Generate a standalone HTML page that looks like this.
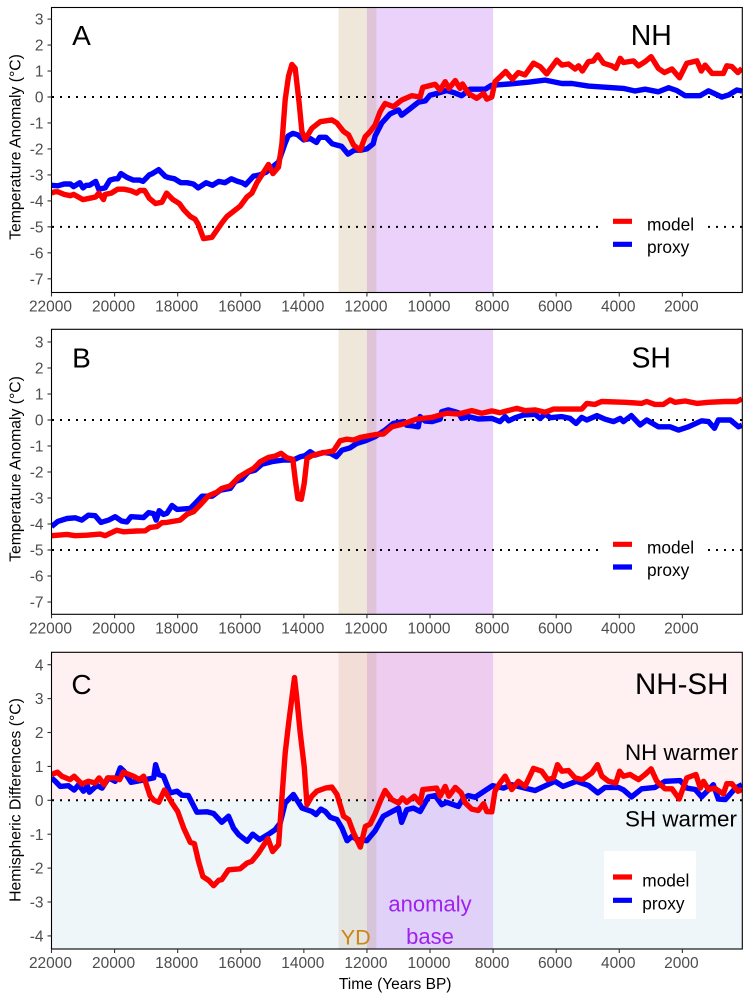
<!DOCTYPE html>
<html lang="en">
<head>
<meta charset="utf-8">
<title>Hemispheric temperature anomalies</title>
<style>
html,body{margin:0;padding:0;background:#fff;width:750px;height:1000px;overflow:hidden}
svg{display:block;font-family:"Liberation Sans",Arial,sans-serif}
</style>
</head>
<body>
<svg id="chart" xmlns="http://www.w3.org/2000/svg" width="750" height="1000" viewBox="0 0 750 1000"></svg>
<script>
/* ---------- chart data ---------- */
const xTickValues = [22000,20000,18000,16000,14000,12000,10000,8000,6000,4000,2000];
const tempTickValues = [3,2,1,0,-1,-2,-3,-4,-5,-6,-7];
const diffTickValues = [4,3,2,1,0,-1,-2,-3,-4];
const tempReferenceLines = [0,-5];
const diffReferenceLines = [0];
const ydBand = [12900,11700];
const anomalyBaseBand = [12000,8000];

const nhProxyYears = [22000,21800,21600,21400,21300,21100,21000,20900,20800,20600,20500,20300,20150,20000,19900,19800,19600,19400,19200,19100,18900,18800,18600,18400,18300,18100,17900,17700,17500,17350,17100,16900,16700,16500,16300,16100,15950,15850,15600,15400,15200,15000,14800,14600,14500,14350,14200,14000,13800,13600,13500,13300,13100,12950,12800,12600,12400,12200,12000,11800,11740,11530,11270,11000,10900,10630,10370,10150,10000,9740,9470,9200,9000,8730,8250,8050,7500,6880,6350,5820,5500,4980,4340,3870,3500,3180,2760,2440,2180,1910,1440,1170,750,530,270,110];
const nhProxyValues = [-3.4,-3.42,-3.35,-3.35,-3.45,-3.3,-3.5,-3.4,-3.4,-3.25,-3.55,-3.5,-3.2,-3.15,-3.15,-2.95,-3.1,-3.2,-3.2,-3.25,-3.0,-2.95,-2.8,-3.05,-3.1,-3.15,-3.3,-3.3,-3.35,-3.5,-3.3,-3.4,-3.25,-3.3,-3.15,-3.25,-3.3,-3.38,-3.05,-3.0,-2.9,-2.7,-2.5,-1.8,-1.5,-1.4,-1.45,-1.65,-1.6,-1.75,-1.55,-1.55,-1.8,-1.85,-1.9,-2.2,-2.05,-2.05,-2.0,-1.8,-1.5,-1.0,-0.65,-0.5,-0.7,-0.45,-0.2,-0.15,0.07,0.15,0.25,0.15,0.05,0.3,0.3,0.45,0.5,0.57,0.65,0.52,0.52,0.42,0.37,0.33,0.23,0.3,0.2,0.36,0.25,0.05,0.05,0.24,0,0.08,0.27,0.23];

const nhModelYears = [22000,21900,21800,21600,21400,21300,21000,20800,20600,20500,20350,20300,20100,19900,19700,19500,19300,19200,19050,18900,18700,18500,18350,18150,17950,17800,17600,17450,17350,17180,16916,16600,16440,16017,15806,15647,15489,15330,15119,14982,14802,14696,14590,14485,14379,14273,14147,14062,13956,13745,13480,13110,12952,12741,12582,12423,12212,12054,11895,11742,11580,11425,11160,10900,10580,10315,10230,9840,9680,9520,9400,9200,9050,8970,8780,8520,8300,8200,8040,7940,7600,7390,7200,6990,6720,6510,6300,5980,5820,5610,5400,5290,5170,4980,4820,4680,4500,4240,4110,3970,3870,3550,3390,3180,2990,2760,2570,2330,2090,1860,1540,1400,1280,1060,700,590,430,240,110];
const nhModelValues = [-3.7,-3.65,-3.65,-3.75,-3.8,-3.75,-3.95,-3.9,-3.85,-3.7,-3.95,-3.75,-3.7,-3.55,-3.55,-3.6,-3.7,-3.6,-3.6,-3.9,-4.1,-4.05,-3.7,-3.95,-4.1,-4.35,-4.6,-4.7,-4.9,-5.45,-5.4,-4.85,-4.6,-4.2,-3.85,-3.7,-3.3,-3.0,-2.6,-2.95,-2.7,-1.8,-0.1,0.8,1.25,1.1,-0.25,-1.33,-1.63,-1.2,-0.95,-0.88,-1.0,-1.33,-1.46,-1.85,-2.05,-1.53,-1.33,-1.08,-0.56,-0.25,-0.37,-0.12,0.05,0,0.37,0.49,0.27,0.59,0.33,0.63,0.33,0.5,0.14,-0.05,0.14,-0.08,0,0.59,0.98,0.68,0.94,0.85,1.3,1.17,0.89,1.42,1.23,1.27,1.08,1.2,1.0,1.36,1.39,1.62,1.3,1.2,1.1,1.49,1.33,1.39,1.2,1.36,1.55,1.1,0.94,1.08,0.74,1.3,1.39,1.0,1.23,0.91,0.91,1.2,1.17,0.94,1.1];

const shProxyYears = [22000,21800,21510,21250,21040,20830,20615,20435,20190,19980,19770,19610,19480,19080,18920,18760,18680,18585,18450,18340,18180,18020,17600,17440,17230,16910,16650,16330,16180,15970,15760,15550,15330,15010,14640,14330,14110,13960,13800,13640,13380,13160,12970,12790,12530,12320,12050,11740,11425,11160,10840,10740,10530,10370,10315,10155,9945,9680,9630,9420,9100,9000,8780,8470,8040,7780,7620,7510,7300,7040,6670,6510,6350,6190,5820,5560,5370,5190,5030,4710,4450,4180,3970,3870,3620,3340,3130,2760,2390,2120,1810,1390,1170,980,860,480,220,110];
const shProxyValues = [-4.1,-3.9,-3.79,-3.76,-3.85,-3.66,-3.68,-3.94,-3.85,-3.72,-3.89,-3.92,-3.72,-3.75,-3.56,-3.6,-3.85,-3.49,-3.63,-3.59,-3.29,-3.44,-3.4,-3.2,-2.93,-2.93,-2.7,-2.63,-2.37,-2.28,-2.0,-1.93,-1.7,-1.6,-1.54,-1.54,-1.41,-1.37,-1.22,-1.35,-1.25,-1.28,-1.41,-1.16,-1.07,-0.9,-0.8,-0.64,-0.39,-0.13,-0.06,-0.2,-0.23,-0.26,0.13,-0.04,-0.06,0.03,0.32,0.39,0.28,0.06,0.13,0.04,0.06,-0.06,0.13,-0.03,0.09,0.19,0.22,0.06,0.23,0.09,0.13,0.06,-0.13,0.1,0,0.17,0.03,-0.06,0.06,-0.06,0.17,-0.19,0,-0.26,-0.26,-0.39,-0.26,-0.03,-0.06,-0.32,0,0,-0.26,-0.2];

const shModelYears = [22000,21510,21250,20880,20455,20300,19930,19720,19300,19030,18870,18660,18500,18340,17920,17710,17500,17290,17020,16760,16600,16330,16070,15800,15590,15380,15120,14910,14720,14540,14350,14270,14190,14080,13990,13900,13745,13480,13060,12850,12640,12420,12210,11740,11480,11210,10900,10420,9945,9470,9100,8680,8360,8040,7780,7250,6990,6670,6350,6090,5670,5190,5030,4770,4560,3810,3290,3130,2870,2600,2390,2230,1910,1540,1170,640,270,110];
const shModelValues = [-4.45,-4.4,-4.45,-4.43,-4.39,-4.45,-4.24,-4.3,-4.27,-4.26,-4.13,-4.1,-3.95,-3.94,-3.85,-3.63,-3.53,-3.27,-2.91,-2.78,-2.63,-2.53,-2.2,-2.0,-1.86,-1.6,-1.44,-1.39,-1.28,-1.45,-1.51,-2.31,-3.02,-3.05,-2.44,-1.48,-1.37,-1.28,-1.19,-0.8,-0.74,-0.77,-0.67,-0.56,-0.54,-0.26,-0.17,0.04,0.1,0.26,0.23,0.36,0.26,0.35,0.28,0.45,0.36,0.39,0.3,0.42,0.42,0.42,0.64,0.6,0.71,0.68,0.64,0.71,0.6,0.6,0.77,0.68,0.73,0.64,0.68,0.71,0.71,0.81];

const diffProxyYears = [22000,21880,21725,21460,21280,21140,20985,20860,20800,20560,20400,20190,19980,19820,19700,19480,19080,18760,18700,18600,18450,18240,18020,17870,17660,17390,17070,16860,16600,16390,16230,16070,15800,15620,15400,15120,14910,14750,14590,14330,14060,13745,13610,13460,13320,13160,12950,12790,12630,12470,12320,12000,11740,11480,11000,10900,10740,10530,10315,10050,9840,9630,9470,9100,8940,8780,8570,8250,8020,7670,7410,6990,6670,6460,6040,5780,5360,4980,4680,4450,4030,3870,3610,3290,2870,2550,2070,1860,1590,1390,1020,860,640,320,110];
const diffProxyValues = [0.66,0.56,0.41,0.43,0.3,0.46,0.27,0.42,0.24,0.44,0.36,0.66,0.56,0.96,0.86,0.53,0.6,0.66,1.05,0.76,0.71,0.22,0.27,0.15,0.14,-0.35,-0.34,-0.39,-0.65,-0.47,-0.82,-1.01,-1.21,-1.0,-1.16,-1.0,-0.87,-0.67,-0.08,0.17,-0.23,-0.33,-0.42,-0.26,-0.33,-0.5,-0.57,-0.82,-1.19,-1.06,-1.16,-1.19,-0.9,-0.47,-0.23,-0.65,-0.28,-0.23,-0.33,0.1,0.14,-0.13,-0.06,-0.18,0.07,0.14,0.09,0.29,0.43,0.36,0.46,0.36,0.29,0.38,0.56,0.41,0.56,0.44,0.22,0.38,0.38,0.31,0.1,0.34,0.38,0.56,0.58,0.36,0.32,0.1,0.46,0.04,0.02,0.36,0.46];

const diffModelYears = [22000,21810,21670,21410,21280,21040,20830,20615,20490,20330,20225,19980,19840,19720,19400,19210,19080,18870,18750,18600,18420,18180,18000,17810,17600,17470,17340,17200,17020,16860,16700,16600,16390,16020,15800,15650,15440,15140,14990,14800,14715,14590,14480,14380,14295,14220,14115,13990,13900,13745,13590,13320,13110,12950,12740,12580,12420,12210,12050,11895,11740,11580,11425,11210,11000,10875,10740,10500,10315,10230,9790,9680,9520,9400,9200,9010,8880,8680,8470,8300,8200,8040,7940,7780,7620,7410,7200,6990,6720,6460,6270,6090,5960,5820,5610,5400,5170,4870,4690,4550,4340,4110,3990,3870,3660,3390,3180,2990,2810,2550,2330,2100,1860,1570,1430,1330,1170,980,700,590,430,240,110];
const diffModelValues = [0.76,0.83,0.71,0.61,0.71,0.48,0.56,0.51,0.66,0.46,0.66,0.66,0.61,0.83,0.71,0.61,0.71,0.12,0,-0.06,0.3,-0.08,-0.33,-0.82,-1.24,-1.28,-1.8,-2.25,-2.36,-2.52,-2.36,-2.34,-2.05,-2.02,-1.85,-1.8,-1.56,-1.13,-1.51,-1.31,-0.18,1.4,2.29,3.02,3.62,2.98,1.99,1.0,-0.13,0.12,0.27,0.36,0.39,0.17,-0.47,-0.57,-0.97,-1.38,-0.77,-0.7,-0.4,-0.03,0.29,0.02,-0.08,0.07,-0.06,0.12,-0.08,0.32,0.36,0.12,0.41,0.12,0.38,0.22,-0.08,-0.26,-0.3,-0.1,-0.33,-0.34,0.27,0.51,0.71,0.32,0.56,0.41,0.94,0.86,0.61,0.66,1.05,0.86,0.88,0.66,0.61,0.81,1.05,0.71,0.56,0.51,0.86,0.71,0.76,0.61,0.76,0.93,0.56,0.34,0.34,0.04,0.66,0.76,0.36,0.56,0.32,0.36,0.19,0.49,0.49,0.27,0.32];

/* ---------- drawing ---------- */
const NS = 'http://www.w3.org/2000/svg';
const svg = document.getElementById('chart');
const PLOT_LEFT = 51.5, PLOT_RIGHT = 742.3, X_START = 22000, X_END = 100;

function xScale(year){
  return PLOT_LEFT + (X_START - year) * (PLOT_RIGHT - PLOT_LEFT) / (X_START - X_END);
}
function makeYScale(panel){
  return function(v){
    return panel.top + (panel.yMax - v) * (panel.bottom - panel.top) / (panel.yMax - panel.yMin);
  };
}
function el(tag, attrs, parent, text){
  const node = document.createElementNS(NS, tag);
  for (const k in attrs) node.setAttribute(k, attrs[k]);
  if (text !== undefined) node.textContent = text;
  (parent || svg).appendChild(node);
  return node;
}

function drawPanel(panel){
  const y = makeYScale(panel);
  const key = panel.key;
  const g = el('g', {});
  
  

  const clipId = 'clip-' + key;
  const defs = el('defs', {}, g);
  const clip = el('clipPath', {id: clipId}, defs);
  el('rect', {x: PLOT_LEFT, y: panel.top, width: PLOT_RIGHT - PLOT_LEFT, height: panel.bottom - panel.top}, clip);

  if (panel.hemisphereShading){
    const warm = el('rect', {x: PLOT_LEFT, y: panel.top, width: PLOT_RIGHT - PLOT_LEFT, height: y(0) - panel.top, fill: '#fff0f2'}, g);
    
    
    const cool = el('rect', {x: PLOT_LEFT, y: y(0), width: PLOT_RIGHT - PLOT_LEFT, height: panel.bottom - y(0), fill: '#eef6fa'}, g);
    
    
  }

  const base = el('rect', {x: xScale(anomalyBaseBand[0]), y: panel.top, width: xScale(anomalyBaseBand[1]) - xScale(anomalyBaseBand[0]), height: panel.bottom - panel.top, fill: 'rgb(150,30,230)', 'fill-opacity': panel.bandAlpha}, g);
  
  
  const yd = el('rect', {x: xScale(ydBand[0]), y: panel.top, width: xScale(ydBand[1]) - xScale(ydBand[0]), height: panel.bottom - panel.top, fill: 'rgb(180,135,75)', 'fill-opacity': panel.bandAlpha}, g);
  
  

  panel.refLines.forEach(function(v){
    const ref = el('line', {x1: PLOT_LEFT, x2: PLOT_RIGHT, y1: y(v), y2: y(v), stroke: '#000', 'stroke-width': 2, 'stroke-dasharray': '2 6', 'stroke-dashoffset': -0.5}, g);
    
    
  });

  panel.series.forEach(function(s){
    const pts = s.years.map(function(yr, i){
      return xScale(yr).toFixed(1) + ',' + y(s.values[i]).toFixed(1);
    }).join(' ');
    const line = el('polyline', {points: pts, fill: 'none', stroke: s.color, 'stroke-width': 5.4, 'stroke-linejoin': 'round', 'stroke-linecap': 'butt', 'clip-path': 'url(#' + clipId + ')'}, g);
    
    
  });

  const frame = el('rect', {x: PLOT_LEFT, y: panel.top, width: PLOT_RIGHT - PLOT_LEFT, height: panel.bottom - panel.top, fill: 'none', stroke: '#000', 'stroke-width': 1.1}, g);
  
  

  xTickValues.forEach(function(t){
    const x = xScale(t);
    const tick = el('line', {x1: x, x2: x, y1: panel.bottom, y2: panel.bottom + 4, stroke: '#333', 'stroke-width': 1.1}, g);
    
    
    const lab = el('text', {x: x - 1, y: panel.bottom + 19.2, 'text-anchor': 'middle', 'font-size': 15.5, fill: '#4d4d4d'}, g, String(t));
    
    
  });
  panel.yTicks.forEach(function(t){
    const py = y(t);
    const tick = el('line', {x1: PLOT_LEFT - 4, x2: PLOT_LEFT, y1: py, y2: py, stroke: '#333', 'stroke-width': 1.1}, g);
    
    
    const lab = el('text', {x: 43.5, y: py + 5.6, 'text-anchor': 'end', 'font-size': 15.5, fill: '#4d4d4d'}, g, String(t));
    
    
  });

  const yTitle = el('text', {transform: 'translate(20.5 ' + panel.titleY + ') rotate(-90)', 'text-anchor': 'middle', 'font-size': 15.75, fill: '#000'}, g, panel.yTitle);
  
  

  const lg = panel.legend;
  const box = el('rect', {x: 604, y: lg.boxTop, width: lg.boxWidth, height: lg.boxHeight, fill: '#fff'}, g);
  
  
  [['model', '#ff0000', lg.key1, lg.text1], ['proxy', '#0000ff', lg.key2, lg.text2]].forEach(function(entry){
    const keyLine = el('line', {x1: 613, x2: 632, y1: entry[2], y2: entry[2], stroke: entry[1], 'stroke-width': 5.2}, g);
    
    
    const lab = el('text', {x: lg.textX, y: entry[3], 'font-size': 17.3, fill: '#000'}, g, entry[0]);
    
    
  });

  const letter = el('text', {x: 81.5, y: panel.labelY, 'text-anchor': 'middle', 'font-size': 28, fill: '#000'}, g, panel.letter);
  
  
  const region = el('text', {x: panel.regionX, y: panel.labelY, 'text-anchor': 'middle', 'font-size': panel.regionSize, fill: '#000'}, g, panel.region);
  
  
}

drawPanel({
  key: 'a', letter: 'A', region: 'NH', regionX: 651.2, regionSize: 28.4, labelY: 45,
  top: 7.5, bottom: 292.5, yMax: 3.446, yMin: -7.527, bandAlpha: 0.2,
  yTicks: tempTickValues, refLines: tempReferenceLines, yTitle: 'Temperature Anomaly (°C)', titleY: 147,
  hemisphereShading: false,
  legend: {boxTop: 199, boxWidth: 103, boxHeight: 68, key1: 221.3, key2: 244.3, text1: 230.3, text2: 253, textX: 647},
  series: [
    {name: 'proxy-line-nh', color: '#0000ff', years: nhProxyYears, values: nhProxyValues},
    {name: 'model-line-nh', color: '#ff0000', years: nhModelYears, values: nhModelValues}
  ]
});
drawPanel({
  key: 'b', letter: 'B', region: 'SH', regionX: 651.2, regionSize: 28.4, labelY: 367.7,
  top: 329.3, bottom: 614.3, yMax: 3.488, yMin: -7.473, bandAlpha: 0.2,
  yTicks: tempTickValues, refLines: tempReferenceLines, yTitle: 'Temperature Anomaly (°C)', titleY: 469,
  hemisphereShading: false,
  legend: {boxTop: 522, boxWidth: 103, boxHeight: 68, key1: 544.3, key2: 567, text1: 553.3, text2: 576, textX: 647},
  series: [
    {name: 'proxy-line-sh', color: '#0000ff', years: shProxyYears, values: shProxyValues},
    {name: 'model-line-sh', color: '#ff0000', years: shModelYears, values: shModelValues}
  ]
});
drawPanel({
  key: 'c', letter: 'C', region: 'NH-SH', regionX: 681.7, regionSize: 29.5, labelY: 694,
  top: 652.3, bottom: 949, yMax: 4.366, yMin: -4.386, bandAlpha: 0.17,
  yTicks: diffTickValues, refLines: diffReferenceLines, yTitle: 'Hemispheric Differences (°C)', titleY: 800,
  hemisphereShading: true,
  legend: {boxTop: 851, boxWidth: 92, boxHeight: 68, key1: 877, key2: 900.3, text1: 886.3, text2: 909.3, textX: 642.3},
  series: [
    {name: 'proxy-line-difference', color: '#0000ff', years: diffProxyYears, values: diffProxyValues},
    {name: 'model-line-difference', color: '#ff0000', years: diffModelYears, values: diffModelValues}
  ]
});

/* ---------- free-standing annotations ---------- */
const notes = el('g', {});



const nhWarmer = el('text', {x: 625, y: 760, 'font-size': 22.4, fill: '#000'}, notes, 'NH warmer');



const shWarmer = el('text', {x: 625, y: 826.7, 'font-size': 22.4, fill: '#000'}, notes, 'SH warmer');



const ydLabel = el('text', {x: 355.7, y: 944.3, 'text-anchor': 'middle', 'font-size': 21.6, fill: '#cd8518'}, notes, 'YD');



const anomalyLabel = el('text', {x: 430, y: 911.7, 'text-anchor': 'middle', 'font-size': 22, fill: '#a020f0'}, notes, 'anomaly');



const baseLabel = el('text', {x: 430, y: 944, 'text-anchor': 'middle', 'font-size': 22, fill: '#a020f0'}, notes, 'base');



const xTitle = el('text', {x: 395.2, y: 989, 'text-anchor': 'middle', 'font-size': 15.5, fill: '#000'}, notes, 'Time (Years BP)');


</script>
</body>
</html>
